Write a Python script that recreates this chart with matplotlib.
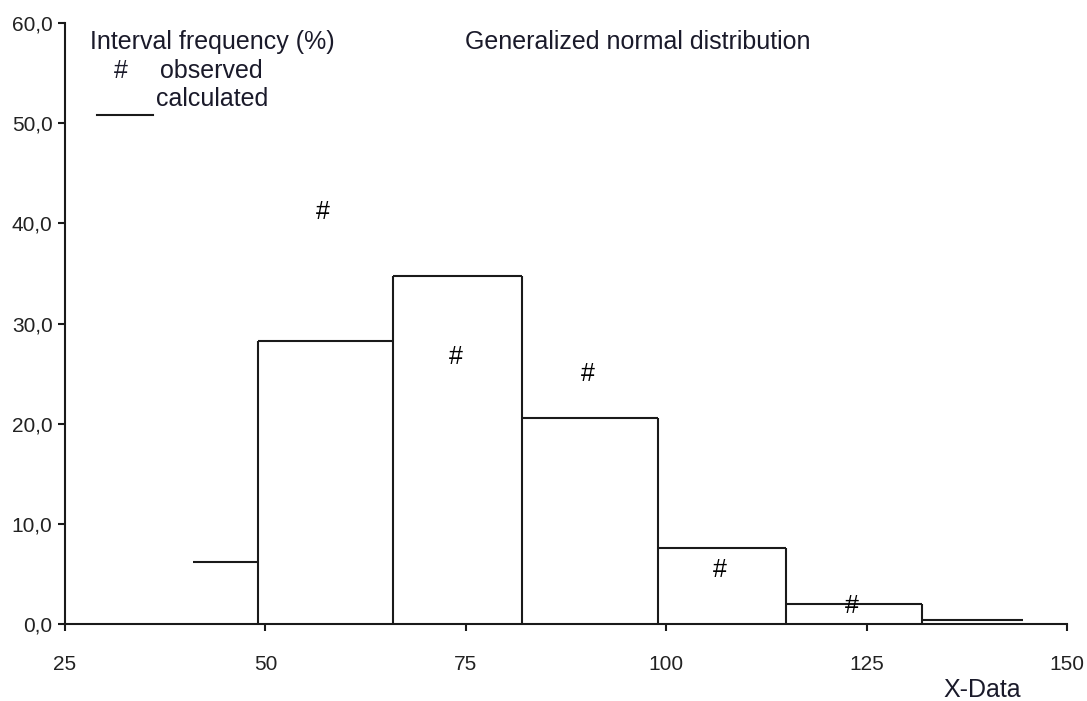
import numpy as np
import matplotlib.pyplot as plt
from matplotlib.ticker import FuncFormatter

# calculated interval frequencies (step bars)
edges = [41.0, 49.1, 65.9, 82.0, 99.0, 115.0, 131.9, 144.5]
calc = [6.2, 28.3, 34.7, 20.6, 7.6, 2.0, 0.4]

# observed interval frequencies
obs_x = [57.2, 73.8, 90.2, 106.7, 123.2]
obs_y = [41.1, 26.7, 25.0, 5.4, 1.8]

xticks = [25, 50, 75, 100, 125, 150]
yticks = [0, 10, 20, 30, 40, 50, 60]

plt.rcParams['font.family'] = ['Liberation Sans', 'DejaVu Sans']

fig = plt.figure(figsize=(10.87, 7.01), dpi=100, facecolor='white')
ax = fig.add_axes([0.0598, 0.1098, 0.9218, 0.8574])

lc = '#1a1a1a'
lw = 1.5
# tops of the intervals
ax.hlines(calc, edges[:-1], edges[1:], colors=lc, linewidth=lw)
# inner vertical edges go down to the axis
inner = edges[1:-1]
vtop = [max(calc[i], calc[i + 1]) for i in range(len(calc) - 1)]
ax.vlines(inner, 0, vtop, colors=lc, linewidth=lw)

for x, y in zip(obs_x, obs_y):
    ax.text(x, y, '#', ha='center', va='center', fontsize=18, color='black')

ax.set_xlim(25, 150)
ax.set_ylim(0, 60)
ax.set_xticks(xticks)
ax.set_yticks(yticks)
ax.yaxis.set_major_formatter(FuncFormatter(lambda v, p: f'{v:.1f}'.replace('.', ',')))
for s in ['top', 'right']:
    ax.spines[s].set_visible(False)
for s in ['left', 'bottom']:
    ax.spines[s].set_linewidth(lw)
    ax.spines[s].set_color(lc)
ax.tick_params(axis='both', direction='out', length=5, width=lw, color=lc,
               labelsize=15, labelcolor='#222222')
ax.tick_params(axis='x', pad=17)
ax.tick_params(axis='y', pad=4)

# annotation texts
tk = dict(fontsize=18, color='#1a1a2a', va='center', ha='left')
ax.text(28.1, 58.1, 'Interval frequency (%)', **tk)
ax.text(74.9, 58.1, 'Generalized normal distribution', **tk)
ax.text(31.9, 55.2, '#', fontsize=18, color='#1a1a2a', va='center', ha='center')
ax.text(36.9, 55.2, 'observed', **tk)
ax.text(36.3, 52.4, 'calculated', **tk)
ax.plot([29.0, 36.0], [50.8, 50.8], color=lc, linewidth=lw, clip_on=False)

fig.text(982 / 1087, 1 - 690 / 701, 'X-Data', fontsize=18, color='#1a1a2a',
         ha='center', va='center')

fig.savefig('out.png', dpi=100, facecolor='white')
